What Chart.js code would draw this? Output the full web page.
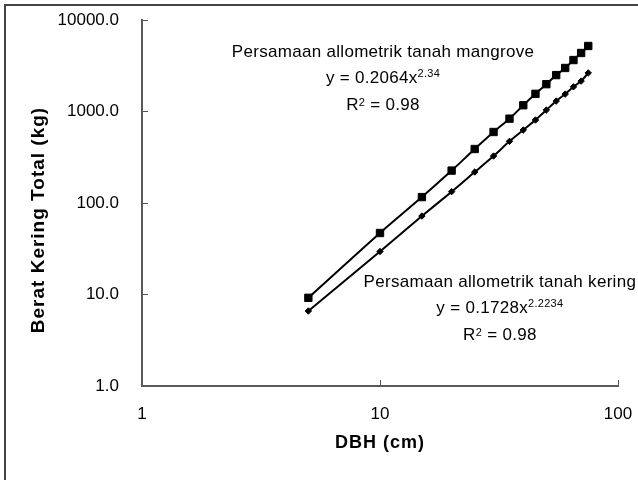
<!DOCTYPE html>
<html>
<head>
<meta charset="utf-8">
<script src="https://cdn.jsdelivr.net/npm/chart.js@4.4.1/dist/chart.umd.min.js"></script>
<style>
  html, body { margin: 0; padding: 0; background: #fff; }
  #wrap { position: relative; width: 638px; height: 480px; overflow: hidden; background: #fff; }
  #frame { position: absolute; left: 4px; top: 4px; width: 700px; height: 600px;
           border-left: 2px solid #444; border-top: 2px solid #444; }
  #c { position: absolute; left: 0; top: 0; }
</style>
</head>
<body>
<div id="wrap">
  <div id="frame"></div>
  <canvas id="c" width="638" height="480"></canvas>
</div>
<script>
// ---- data ----
const dbh = [5, 10, 15, 20, 25, 30, 35, 40, 45, 50, 55, 60, 65, 70, 75];
const beratMangrove = [9.2, 47, 116, 226, 389, 597, 835, 1170, 1560, 1990, 2500, 2990, 3650, 4360, 5200];
const beratKering = [6.6, 29.5, 72, 133, 218, 326, 472, 628, 807, 1038, 1300, 1550, 1860, 2150, 2640];
const xTickValues = [1, 10, 100];
const yTickValues = [1, 10, 100, 1000, 10000];

const seriesNames = ['Tanah mangrove', 'Tanah kering'];
const xTitle = 'DBH (cm)';
const yTitle = 'Berat Kering Total (kg)';

const annotations = [
  { x: 10.3, y: 3950, lines: [
      [{ t: 'Persamaan allometrik tanah mangrove' }],
      [{ t: 'y = 0.2064x' }, { t: '2.34', sup: 6 }],
      [{ t: 'R' }, { t: '2', sup: 4 }, { t: ' = 0.98' }]
  ]},
  { x: 31.9, y: 12.1, lines: [
      [{ t: 'Persamaan allometrik tanah kering' }],
      [{ t: 'y = 0.1728x' }, { t: '2.2234', sup: 6 }],
      [{ t: 'R' }, { t: '2', sup: 4 }, { t: ' = 0.98' }]
  ]}
];

const FONT = '"Liberation Sans", Arial, sans-serif';

const annotationPlugin = {
  id: 'eqText',
  afterDatasetsDraw(chart) {
    const ctx = chart.ctx;
    const xs = chart.scales.x, ys = chart.scales.y;
    ctx.save();
    ctx.fillStyle = '#000';
    ctx.textBaseline = 'alphabetic';
    ctx.textAlign = 'left';
    ctx.letterSpacing = '0.3px';
    annotations.forEach(a => {
      const cx = xs.getPixelForValue(a.x);
      let by = ys.getPixelForValue(a.y);
      a.lines.forEach(parts => {
        let w = 0;
        parts.forEach(p => {
          ctx.font = (p.sup ? '11px ' : '17px ') + FONT;
          p._w = ctx.measureText(p.t).width;
          w += p._w;
        });
        let x = cx - w / 2;
        parts.forEach(p => {
          ctx.font = (p.sup ? '11px ' : '17px ') + FONT;
          ctx.fillText(p.t, x, by - (p.sup || 0));
          x += p._w;
        });
        by += 26.5;
      });
    });
    ctx.restore();
  }
};

const titleStylePlugin = {
  id: 'titleStyle',
  beforeDraw(chart) {
    const sx = chart.scales.x, sy = chart.scales.y;
    if (!sx._wrapped) {
      const o = sx.drawTitle;
      sx.drawTitle = function () {
        const c = this.ctx; c.save(); c.letterSpacing = '1px'; o.call(this); c.restore();
      };
      sx._wrapped = true;
    }
    if (!sy._wrapped) {
      const o = sy.drawTitle;
      sy.drawTitle = function () {
        const c = this.ctx; c.save(); c.letterSpacing = '1px'; c.translate(0, 17); o.call(this); c.restore();
      };
      sy._wrapped = true;
    }
  }
};

function noPad(s) { s.paddingTop = 0; s.paddingBottom = 0; s.paddingLeft = 0; s.paddingRight = 0; }

new Chart(document.getElementById('c'), {
  type: 'scatter',
  data: {
    datasets: [
      {
        label: seriesNames[0],
        data: dbh.map((d, i) => ({ x: d, y: beratMangrove[i] })),
        showLine: true,
        borderColor: '#000',
        backgroundColor: '#000',
        borderWidth: 2,
        tension: 0.25,
        pointStyle: 'rect',
        pointRadius: 5.2,
        pointBorderWidth: 1,
        pointBackgroundColor: '#000',
        pointBorderColor: '#000'
      },
      {
        label: seriesNames[1],
        data: dbh.map((d, i) => ({ x: d, y: beratKering[i] })),
        showLine: true,
        borderColor: '#000',
        backgroundColor: '#000',
        borderWidth: 2,
        tension: 0.25,
        pointStyle: 'rectRot',
        pointRadius: 3.2,
        pointBorderWidth: 1,
        pointBackgroundColor: '#000',
        pointBorderColor: '#000'
      }
    ]
  },
  options: {
    responsive: false,
    animation: false,
    devicePixelRatio: 1,
    layout: { padding: { left: 0, right: 20, top: 20, bottom: 0 } },
    plugins: { legend: { display: false }, tooltip: { enabled: false } },
    scales: {
      x: {
        type: 'logarithmic',
        min: 1, max: 100,
        afterBuildTicks: s => { s.ticks = xTickValues.map(v => ({ value: v })); },
        afterFit: s => { s.height = 94; noPad(s); },
        ticks: {
          callback: v => String(v),
          color: '#000',
          font: { family: FONT, size: 17 },
          padding: 24,
          maxRotation: 0, autoSkip: false
        },
        grid: { drawOnChartArea: false, tickLength: -6, color: '#555', lineWidth: 1 },
        border: { display: true, color: '#5a5a5a', width: 2 },
        title: {
          display: true, text: xTitle, color: '#000',
          font: { family: FONT, size: 18, weight: 'bold' },
          padding: { top: 0, bottom: 26 }
        }
      },
      y: {
        type: 'logarithmic',
        min: 1, max: 10000,
        afterBuildTicks: s => { s.ticks = yTickValues.map(v => ({ value: v })); },
        afterFit: s => { s.width = 142; noPad(s); },
        ticks: {
          callback: v => Number(v).toFixed(1),
          color: '#000',
          font: { family: FONT, size: 17 },
          padding: 29,
          autoSkip: false
        },
        grid: { drawOnChartArea: false, tickLength: -6, color: '#555', lineWidth: 1 },
        border: { display: true, color: '#5a5a5a', width: 2 },
        title: {
          display: true, text: yTitle, color: '#000',
          font: { family: FONT, size: 19, weight: 'bold' },
          padding: { top: 27, bottom: 0 }
        }
      }
    }
  },
  plugins: [titleStylePlugin, annotationPlugin]
});
</script>
</body>
</html>
